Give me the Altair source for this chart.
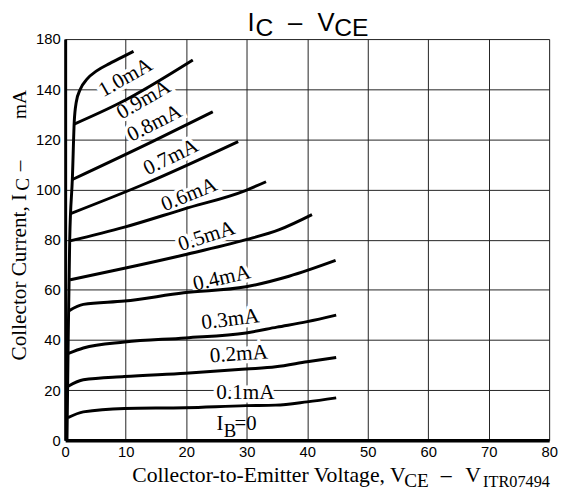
import altair as alt
import pandas as pd

# ---------------- data ----------------
curve_names = ["1.0mA", "0.9mA", "0.8mA", "0.7mA", "0.6mA",
               "0.5mA", "0.4mA", "0.3mA", "0.2mA", "0.1mA"]

v_10 = [0.3, 0.5, 0.75, 1.2, 1.5, 1.83, 2.5, 3.6, 5.2, 7.4, 9.5, 11.3]
i_10 = [0, 40, 80, 105, 127, 134.8, 140, 144, 147.3, 150.3, 152.9, 155.1]
v_09 = [1.4, 9.0, 21.1]
i_09 = [126, 134.5, 151.7]
v_08 = [1.2, 14.4, 24.4]
i_08 = [104, 119.1, 131]
v_07 = [0.9, 13.6, 28.6]
i_07 = [90.4, 102.7, 119.1]
v_06 = [0.8, 9.8, 19.6, 29.9, 33.2]
i_06 = [79.5, 85, 92.2, 99.7, 103.1]
v_05 = [0.8, 9.8, 19.6, 29.9, 35.4, 40.8]
i_05 = [64, 68.6, 73.9, 80, 84, 90]
v_04 = [0.6, 3.0, 9.8, 19.6, 29.9, 37.0, 44.7]
i_04 = [51.6, 54.2, 55.5, 58.8, 61.2, 65.4, 71.7]
v_03 = [0.55, 3.0, 9.8, 19.9, 29.9, 35.0, 40.0, 44.8]
i_03 = [34.6, 36.8, 39.2, 40.8, 42.8, 45.1, 47.3, 49.9]
v_02 = [0.5, 3.0, 9.8, 19.9, 29.9, 34.8, 40.0, 44.8]
i_02 = [21.5, 24.1, 25.4, 26.7, 28.4, 29.3, 31.3, 33.0]
v_01 = [0.45, 3.0, 9.8, 19.9, 29.9, 34.8, 40.0, 44.8]
i_01 = [9, 11.3, 12.7, 13.0, 13.8, 14.0, 15.3, 16.9]

curve_v = [v_10, v_09, v_08, v_07, v_06, v_05, v_04, v_03, v_02, v_01]
curve_i = [i_10, i_09, i_08, i_07, i_06, i_05, i_04, i_03, i_02, i_01]

# curve label placement (V, mA, tilt in degrees)
label_v = [10.0, 13.0, 14.8, 17.5, 20.5, 23.4, 25.9, 27.3, 28.7, 29.8]
label_i = [144.5, 135.7, 126.3, 112.8, 97.8, 81.2, 64.5, 48.0, 34.2, 18.9]
label_tilt = [29.5, 30, 27, 26, 22, 18, 13, 7, 4, 0]

x_ticks = [0, 10, 20, 30, 40, 50, 60, 70, 80]
y_ticks = [0, 20, 40, 60, 80, 100, 120, 140, 160]

# ---------------- tables ----------------
rows = []
for name, vs, is_ in zip(curve_names, curve_v, curve_i):
    for k, (v, i) in enumerate(zip(vs, is_)):
        rows.append({"curve": name, "order": k, "V": v, "I": i})
df = pd.DataFrame(rows)

lab = pd.DataFrame({
    "text": curve_names,
    "V": label_v,
    "I": label_i,
    "ang": [(360 - t) % 360 for t in label_tilt],
})

x_scale = alt.Scale(domain=[0, 80], nice=False, zero=False)
y_scale = alt.Scale(domain=[0, 160], nice=False, zero=False)

x_axis = alt.Axis(values=x_ticks, grid=True, gridColor="#222", gridWidth=1,
                  domainColor="black", domainWidth=3.5, ticks=False,
                  labelFont="Liberation Sans", labelFontSize=15, labelColor="black",
                  labelPadding=5, labelFlush=False, title=None)
y_axis = alt.Axis(values=y_ticks, grid=True, gridColor="#222", gridWidth=1,
                  domainColor="black", domainWidth=3, ticks=False,
                  labelFont="Liberation Sans", labelFontSize=15, labelColor="black",
                  labelPadding=5, labelFlush=False, title=None,
                  labelExpr="datum.value == 160 ? '180' : datum.label")

X = alt.X("V:Q", scale=x_scale, axis=x_axis)
Y = alt.Y("I:Q", scale=y_scale, axis=y_axis)

LABEL_SIZE = 21.5

halo = alt.Chart(lab).mark_text(
    font="Liberation Serif", fontSize=LABEL_SIZE, align="center", baseline="middle",
    fill="white", stroke="white", strokeWidth=7
).encode(x=X, y=Y, text="text:N", angle=alt.Angle("ang:Q", scale=None))

lines = alt.Chart(df).mark_line(
    color="black", strokeWidth=3, interpolate="monotone"
).encode(x=X, y=Y, detail="curve:N", order="order:Q")

labels = alt.Chart(lab).mark_text(
    font="Liberation Serif", fontSize=LABEL_SIZE, align="center", baseline="middle",
    color="black"
).encode(x=X, y=Y, text="text:N", angle=alt.Angle("ang:Q", scale=None))

# I_B = 0 label (data coordinates, left aligned pieces)
ib = pd.DataFrame({
    "text": ["I", "B", "=0"],
    "V": [25.0, 26.2, 28.0],
    "I": [3.9, 1.4, 3.9],
    "fs": [21, 19, 21],
})
ib_text = alt.Chart(ib).mark_text(
    font="Liberation Serif", align="left", baseline="alphabetic", color="black"
).encode(x=X, y=Y, text="text:N", size=alt.Size("fs:Q", scale=None, legend=None))


def ann(text, px, py, font, size, angle=0):
    m = alt.Chart(pd.DataFrame({"t": [text]})).mark_text(
        text=text, font=font, fontSize=size, align="left",
        baseline="alphabetic", color="black", angle=angle)
    return m.encode(x=alt.value(px), y=alt.value(py))


SANS = "Liberation Sans"
SERIF = "Liberation Serif"
annotations = [
    # title  I_C - V_CE
    ann("I", 185, -8, SANS, 26),
    ann("C", 193, -3, SANS, 25),
    ann("–", 226, -8, SANS, 26),
    ann("V", 256, -8, SANS, 26),
    ann("CE", 273, -3, SANS, 25),
    # x axis title
    ann("Collector-to-Emitter Voltage, V", 68, 449, SERIF, 22),
    ann("CE", 344, 454, SERIF, 19.5),
    ann("–", 381, 449, SERIF, 22),
    ann("V", 406, 449, SERIF, 22),
    ann("ITR07494", 424, 454, SERIF, 16.5),
    # y axis title (rotated)
    ann("Collector Current, I", -40, 326, SERIF, 21.5, 270),
    ann("C", -37, 154, SERIF, 19.5, 270),
    ann("–", -40, 134, SERIF, 21.5, 270),
    ann("mA", -40, 81, SERIF, 19.5, 270),
]

chart = alt.layer(halo, lines, labels, ib_text, *annotations).properties(
    width=491, height=407,
    autosize=alt.AutoSizeParams(type="none"),
    padding={"left": 58, "top": 28, "right": 10, "bottom": 50},
).configure_view(stroke="black", strokeWidth=1.5).configure(background="white")

chart.save("out.html", embed_options={"renderer": "svg", "actions": False})
